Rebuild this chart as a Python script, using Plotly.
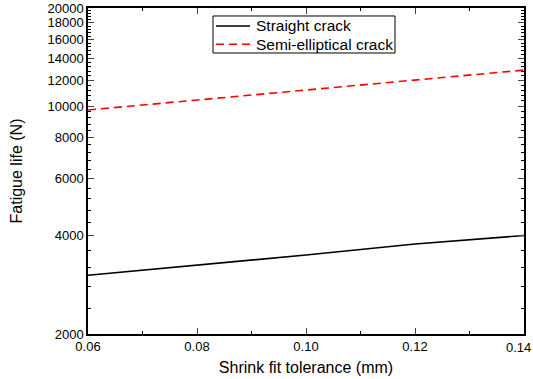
import plotly.graph_objects as go
import numpy as np

x_vals = [0.06, 0.08, 0.10, 0.12, 0.14]
straight = [3030, 3256, 3494, 3776, 4010]
semi = [9730, 10440, 11220, 12000, 12900]
series_names = ["Straight crack", "Semi-elliptical crack"]
y_ticks = [2000, 4000, 6000, 8000, 10000, 12000, 14000, 16000, 18000, 20000]
x_ticks = [0.06, 0.08, 0.10, 0.12, 0.14]
x_labels = ["0.06", "0.08", "0.10", "0.12", "0.14"]

styles = [dict(color="black", width=1.6, dash="solid"),
          dict(color="red", width=1.6, dash="8px,5px")]

fig = go.Figure()
for name, ys, st in zip(series_names, [straight, semi], styles):
    fig.add_trace(go.Scatter(x=x_vals, y=ys, mode="lines", name=name,
                             line=st, showlegend=False))

# Manual legend (box, sample lines, labels) to match compact original
fig.add_shape(type="rect", xref="paper", yref="paper", x0=0.2867, x1=0.7041, y0=0.862, y1=0.9755,
              line=dict(color="black", width=1), fillcolor="white", layer="above")
for i, (name, st) in enumerate(zip(series_names, styles)):
    yy = [0.9448, 0.8887][i]
    fig.add_shape(type="line", xref="paper", yref="paper", x0=0.2936, x1=0.3716, y0=yy, y1=yy,
                  line=st, layer="above")
    fig.add_annotation(xref="paper", yref="paper", x=0.3807, y=yy, text=name, showarrow=False,
                       xanchor="left", yanchor="middle", font=dict(size=15.5))

# last x tick label placed so it stays within the page
fig.add_annotation(xref="paper", yref="paper", x=1.0, y=0, xshift=9, yshift=-4, text=x_labels[-1],
                   showarrow=False, xanchor="right", yanchor="top", font=dict(size=13))

minor_y = [v for v in range(2400, 20000, 400) if v % 2000 != 0]
fig.update_layout(
    width=533, height=379,
    margin=dict(l=88, r=9, t=8, b=45),
    paper_bgcolor="white", plot_bgcolor="white",
    font=dict(family="Liberation Sans, Arial", size=13, color="black"),
    showlegend=False,
    xaxis=dict(range=[0.06, 0.14000001], tickvals=x_ticks, ticktext=x_labels[:-1] + [""],
               ticks="inside", ticklen=6, tickwidth=1, showline=True, linecolor="black", linewidth=1.5,
               mirror="allticks", showgrid=False, zeroline=False, automargin=False,
               minor=dict(tickvals=[0.07, 0.09, 0.11, 0.13], ticks="inside", ticklen=3, tickcolor="black"),
               title=dict(text="Shrink fit tolerance (mm)", font=dict(size=16), standoff=8)),
    yaxis=dict(type="log", range=[np.log10(2000), np.log10(20000)], tickvals=y_ticks,
               ticktext=[str(v) for v in y_ticks],
               ticks="inside", ticklen=6, tickwidth=1, showline=True, linecolor="black", linewidth=1.5,
               mirror="allticks", showgrid=False, zeroline=False, automargin=False,
               ticklabeloverflow="allow",
               minor=dict(tickvals=minor_y, ticks="inside", ticklen=3, tickcolor="black"),
               title=dict(text="Fatigue life (N)", font=dict(size=16), standoff=21)),
)
fig.write_html("out.html")
